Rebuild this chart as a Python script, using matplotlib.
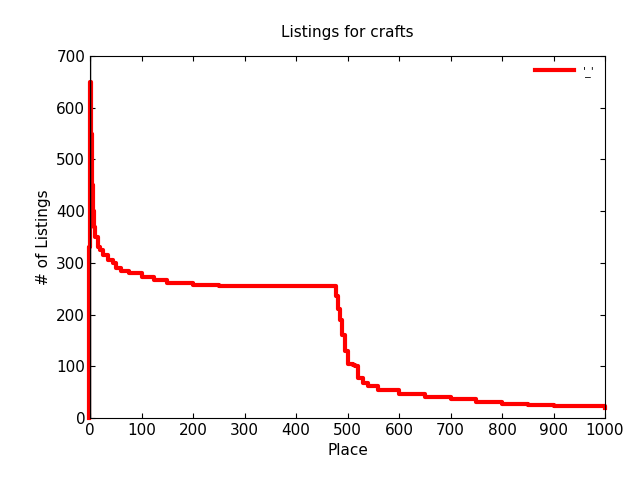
import matplotlib
matplotlib.use("Agg")
import matplotlib.pyplot as plt

place = [-2, -2, 0, 1, 2, 3, 5, 8, 10, 15, 20, 25, 35, 45, 50, 60, 75, 100, 125, 150, 200, 250,
         475, 478, 482, 486, 490, 495, 500, 510, 515, 520, 530, 540, 560, 600, 650, 700,
         750, 800, 850, 900, 950, 1000]
listings = [0, 330, 650, 650, 550, 450, 400, 370, 350, 330, 325, 315, 305, 300, 290, 285, 280, 272,
            266, 262, 258, 255, 255, 235, 210, 190, 160, 130, 105, 102, 100, 78, 68, 62, 55, 47,
            40, 36, 31, 28, 26, 24, 23, 20]

fig = plt.figure(figsize=(6.4, 4.8), dpi=100)
ax = fig.add_axes([90 / 640, 62 / 480, 515 / 640, 362 / 480])
ax.step(place, listings, where="post", color="red", lw=3, label="'_'", clip_on=False)
ax.axvline(0, color="black", lw=1)
ax.set_xlim(0, 1000)
ax.set_ylim(0, 700)
ax.set_xticks(range(0, 1001, 100))
ax.set_yticks(range(0, 701, 100))
ax.tick_params(direction="in", top=True, right=True, labelsize=11)
ax.set_title("Listings for crafts", fontsize=11, pad=14)
ax.set_xlabel("Place", fontsize=11)
ax.set_ylabel("# of Listings", fontsize=11)
ax.legend(loc="upper right", frameon=False, handlelength=3.5, fontsize=8)
fig.savefig("out.png", dpi=100)
